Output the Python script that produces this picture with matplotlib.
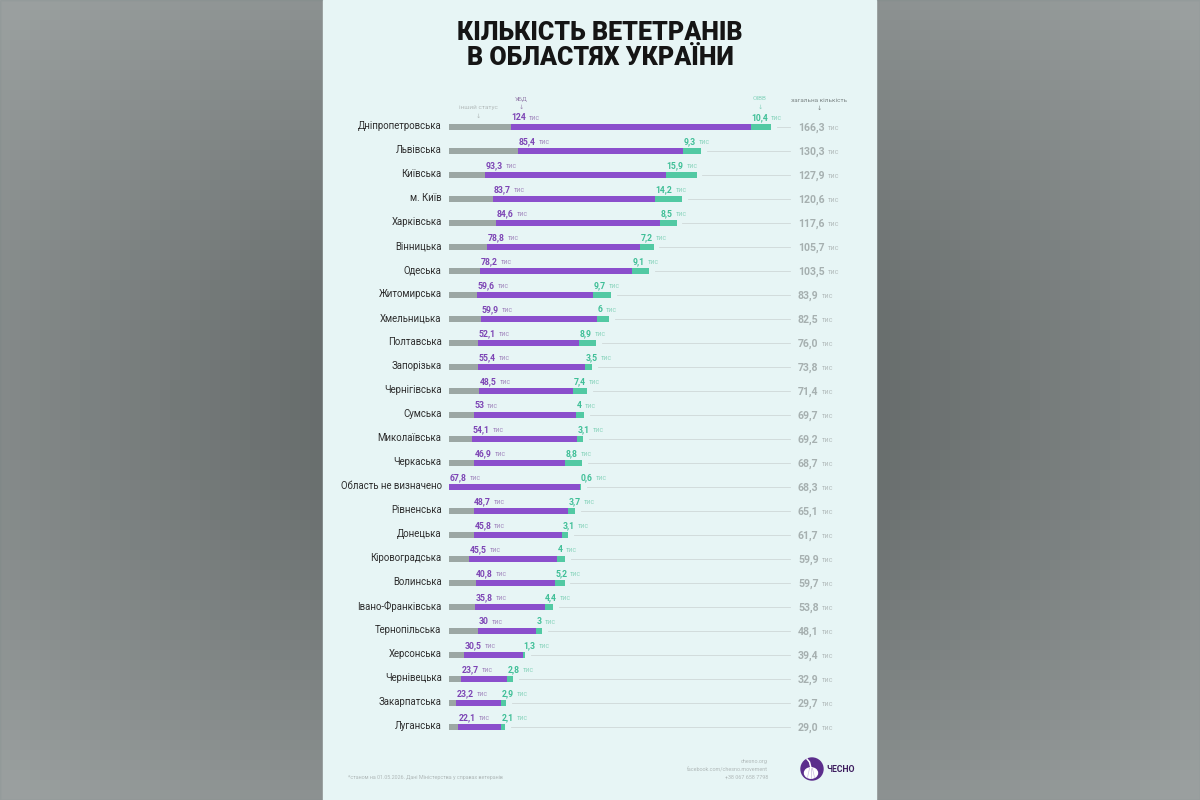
import numpy as np
import matplotlib.pyplot as plt
from matplotlib.patches import Rectangle, Circle, Ellipse

# data, thousands of veterans
regions = ["Дніпропетровська", "Львівська", "Київська", "м. Київ", "Харківська",
           "Вінницька", "Одеська", "Житомирська", "Хмельницька", "Полтавська",
           "Запорізька", "Чернігівська", "Сумська", "Миколаївська", "Черкаська",
           "Область не визначено", "Рівненська", "Донецька", "Кіровоградська",
           "Волинська", "Івано-Франківська", "Тернопільська", "Херсонська",
           "Чернівецька", "Закарпатська", "Луганська"]
ubd = [124, 85.4, 93.3, 83.7, 84.6, 78.8, 78.2, 59.6, 59.9, 52.1, 55.4, 48.5, 53,
       54.1, 46.9, 67.8, 48.7, 45.8, 45.5, 40.8, 35.8, 30, 30.5, 23.7, 23.2, 22.1]
oivv = [10.4, 9.3, 15.9, 14.2, 8.5, 7.2, 9.1, 9.7, 6, 8.9, 3.5, 7.4, 4, 3.1, 8.8,
        0.6, 3.7, 3.1, 4, 5.2, 4.4, 3, 1.3, 2.8, 2.9, 2.1]
total = [166.3, 130.3, 127.9, 120.6, 117.6, 105.7, 103.5, 83.9, 82.5, 76.0, 73.8,
         71.4, 69.7, 69.2, 68.7, 68.3, 65.1, 61.7, 59.9, 59.7, 53.8, 48.1, 39.4,
         32.9, 29.7, 29.0]

GRAY = "#9ca7a4"
PURPLE = "#8b4fcc"
TEAL = "#52c9a3"
PANEL = "#e7f5f5"
FONT = ["Roboto", "DejaVu Sans"]

def fmt(v):
    s = ("%g" % v).replace(".", ",")
    return s

fig = plt.figure(figsize=(12, 8), dpi=100)

# background / overlay axes in pixel coords
bg = fig.add_axes([0, 0, 1, 1])
bg.set_xlim(0, 1200)
bg.set_ylim(800, 0)
bg.axis("off")
# blurred-looking gray surround (simple gradient)
gx = np.linspace(-1, 1, 120)
gy = np.linspace(-1, 1, 80)
GX, GY = np.meshgrid(gx, gy)
shade = 0.42 + 0.24 * np.clip(np.hypot(GX * 1.05, GY * 1.1) - 0.5, 0, 1)
bg.imshow(shade, cmap="gray", vmin=0, vmax=1, extent=(0, 1200, 800, 0),
          aspect="auto", zorder=0, alpha=1)
bg.add_patch(Rectangle((0, 0), 1200, 800, color="#5c7a78", alpha=0.18, zorder=0.5))
bg.add_patch(Rectangle((323, 0), 553, 800, color=PANEL, zorder=1))

bg.text(600, 33, "КІЛЬКІСТЬ ВЕТЕТРАНІВ", ha="center", va="center", fontsize=18,
        fontweight="heavy", family=FONT, color="#151515", zorder=3)
bg.text(600, 58, "В ОБЛАСТЯХ УКРАЇНИ", ha="center", va="center", fontsize=18,
        fontweight="heavy", family=FONT, color="#151515", zorder=3)

# column headers
hdr = dict(ha="center", va="center", fontsize=4.6, family=FONT, zorder=3)
bg.text(478, 108, "інший статус", color="#b4bcbc", **hdr)
bg.text(478, 116, "↓", color="#b4bcbc", **hdr)
bg.text(521, 99, "УБД", color="#9a86b0", **hdr)
bg.text(521, 107, "↓", color="#9a86b0", **hdr)
bg.text(760, 99, "ОІВВ", color="#88d3bd", **hdr)
bg.text(760, 107, "↓", color="#88d3bd", **hdr)
bg.text(819, 100, "загальна кількість", color="#7d8686", **hdr)
bg.text(819, 108, "↓", color="#7d8686", **hdr)

# footer
bg.text(348, 777, "*станом на 01.05.2026. Дані Міністерства у справах ветеранів",
        ha="left", va="center", fontsize=3.9, family=FONT, color="#b0b9b9", zorder=3)
for yy, s in zip([762, 769.5, 777], ["chesno.org", "facebook.com/chesno.movement",
                                     "+38 067 658 7798"]):
    bg.text(768, yy, s, ha="right", va="center", fontsize=3.9, family=FONT,
            color="#b0b9b9", zorder=3)
bg.add_patch(Circle((812, 769), 11, color="#5b2d8c", zorder=3))
bg.add_patch(Ellipse((811, 773), 13, 10.5, color="white", zorder=4))
bg.plot([811, 809.5, 807], [768, 762, 759], color="white", lw=1.1, zorder=4)
for dx in (-3.5, 0, 3.5):
    bg.plot([811 + dx * 0.4, 811 + dx], [768, 777.5], color="#c9b8dd", lw=0.5, zorder=5)
bg.text(826, 769, "ЧЕСНО", ha="left", va="center", fontsize=6.3, fontweight="bold",
        family=FONT, color="#3d1d5e", zorder=3)

# bar axes: 1.936 px per thousand, rows every 24 px starting at y=127
n = len(regions)
x0_px, px_per = 449, 1.936
top_px, row_px = 115, 24
ax = fig.add_axes([x0_px / 1200, 1 - (top_px + n * row_px) / 800,
                   (876 - x0_px) / 1200, n * row_px / 800])
ax.set_xlim(0, (876 - x0_px) / px_per)
ax.set_ylim(n - 0.5, -0.5)
ax.axis("off")
ax.patch.set_alpha(0)

ypos = np.arange(n)
other = [max(t - u - o, 0) for t, u, o in zip(total, ubd, oivv)]
left_u = other
left_o = [a + u for a, u in zip(other, ubd)]
bh = 0.28
ax.barh(ypos, other, height=bh, color=GRAY, zorder=3)
ax.barh(ypos, ubd, left=left_u, height=bh, color=PURPLE, zorder=3)
ax.barh(ypos, oivv, left=left_o, height=bh, color=TEAL, zorder=3)

tot_x = (798 - x0_px) / px_per
line_end = (790 - x0_px) / px_per
for i in range(n):
    end = left_o[i] + oivv[i]
    ax.plot([end + 3, line_end], [i, i], color="#cfd8d8", lw=0.6, zorder=2)
    ax.text(-3.8, i - 0.03, regions[i], ha="right", va="center", fontsize=6.9,
            family=FONT, color="#2e2e2e")
    # УБД label
    t1 = ax.text(left_u[i] + 0.3, i - 0.38, fmt(ubd[i]), ha="left", va="center",
                 fontsize=6.2, fontweight="bold", family=FONT, color="#7d45b5")
    ax.annotate("тис", xy=(1, 0.45), xycoords=t1, xytext=(2.2, 0),
                textcoords="offset points", ha="left", va="center",
                fontsize=5, family=FONT, color="#a48cc0")
    # ОІВВ label
    t2 = ax.text(left_o[i] + 0.3, i - 0.38, fmt(oivv[i]), ha="left", va="center",
                 fontsize=6.2, fontweight="bold", family=FONT, color="#3fbf97")
    ax.annotate("тис", xy=(1, 0.45), xycoords=t2, xytext=(2.2, 0),
                textcoords="offset points", ha="left", va="center",
                fontsize=5, family=FONT, color="#8fd6c0")
    # total
    t3 = ax.text(tot_x, i + 0.02, ("%.1f" % total[i]).replace(".", ","),
                 ha="left", va="center", fontsize=7.6, fontweight="bold",
                 family=FONT, color="#a6b0b0")
    ax.annotate("тис", xy=(1, 0.4), xycoords=t3, xytext=(2.5, 0),
                textcoords="offset points", ha="left", va="center",
                fontsize=5.2, family=FONT, color="#b5bebe")

fig.savefig("out.png", dpi=100)
